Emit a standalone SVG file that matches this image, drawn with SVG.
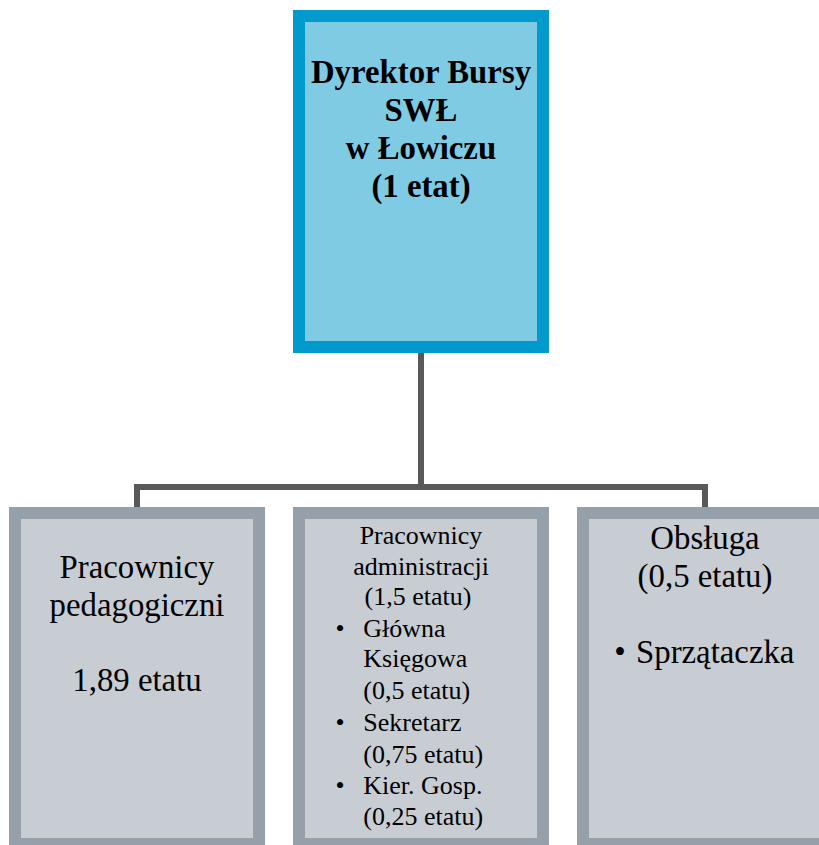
<svg xmlns="http://www.w3.org/2000/svg" width="819" height="845" viewBox="0 0 819 845">
<style>
  text { font-family: "Liberation Serif", Tinos, "Times New Roman", Times, "DejaVu Serif", serif; fill: #000; }
  .top { fill: #80CBE4; stroke: #009BCC; stroke-width: 12; }
  .sub { fill: #C8CDD4; stroke: #95A0AA; stroke-width: 12; }
  .conn { fill: none; stroke: #58595B; stroke-width: 6; stroke-linejoin: miter; }
  .big { font-size: 32.8px; text-anchor: middle; }
  .bold { font-weight: bold; }
  .small { font-size: 26px; }
  .mid { text-anchor: middle; }
</style>
<rect width="819" height="845" fill="#FFFFFF"/>
<g id="connectors">
  <path class="conn" d="M421,353 V487"/>
  <path class="conn" d="M137,507 V487 H705 V507"/>
</g>
<g id="dyrektor">
  <rect class="top" x="299" y="16" width="244" height="331"/>
  <text class="big bold" x="421" y="82.7">Dyrektor Bursy</text>
  <text class="big bold" x="421" y="120.7">SWŁ</text>
  <text class="big bold" x="421" y="158.7">w Łowiczu</text>
  <text class="big bold" x="421" y="196.7">(1 etat)</text>
</g>
<g id="pedagogiczni">
  <rect class="sub" x="15" y="513" width="244" height="331"/>
  <text class="big" x="137" y="578.3">Pracownicy</text>
  <text class="big" x="137" y="616">pedagogiczni</text>
  <text class="big" x="137" y="691">1,89 etatu</text>
</g>
<g id="administracja">
  <rect class="sub" x="299" y="513" width="244" height="331"/>
  <text class="small mid" x="421" y="543.5">Pracownicy</text>
  <text class="small mid" x="421" y="574.5">administracji</text>
  <text class="small mid" x="418" y="605">(1,5 etatu)</text>
  <text class="small" x="335.5" y="636.5">•</text>
  <text class="small" x="363.3" y="636.5">Główna</text>
  <text class="small" x="363.3" y="667">Księgowa</text>
  <text class="small" x="363.3" y="698.5">(0,5 etatu)</text>
  <text class="small" x="335.5" y="731">•</text>
  <text class="small" x="363.3" y="731">Sekretarz</text>
  <text class="small" x="363.3" y="762.5">(0,75 etatu)</text>
  <text class="small" x="335.5" y="794.3">•</text>
  <text class="small" x="363.3" y="794.3">Kier. Gosp.</text>
  <text class="small" x="363.3" y="825">(0,25 etatu)</text>
</g>
<g id="obsluga">
  <rect class="sub" x="583" y="513" width="244" height="331"/>
  <text class="big" x="705" y="548.5">Obsługa</text>
  <text class="big" x="705" y="586.5">(0,5 etatu)</text>
  <text style="font-size:32.8px" x="614.3" y="663.3">•</text>
  <text style="font-size:32.8px" x="636" y="663.3">Sprzątaczka</text>
</g>
</svg>
